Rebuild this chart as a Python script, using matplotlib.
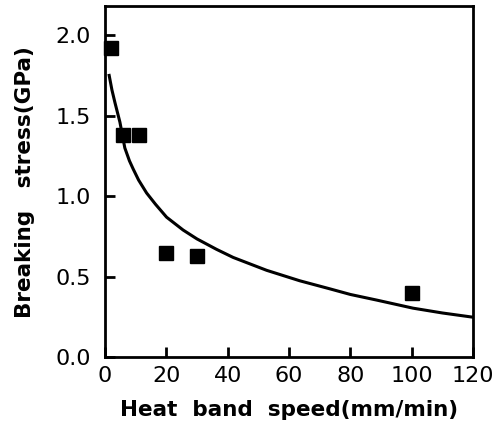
import numpy as np
from matplotlib import pyplot as plt

# measured points
speed = [2, 6, 11, 20, 30, 100]
stress = [1.92, 1.38, 1.38, 0.65, 0.63, 0.40]

# fitted curve
curve_x = [1.4, 2.3, 3.3, 4.9, 6.5, 8.0, 9.2, 11.0, 13.6, 16.5, 20.1, 25.5, 30.0, 36.4,
           41.8, 52.7, 63.5, 73.3, 80.0, 88.6, 100.4, 110.0, 119.5]
curve_y = [1.75, 1.66, 1.58, 1.46, 1.30, 1.22, 1.17, 1.10, 1.02, 0.95, 0.87, 0.79, 0.735, 0.67,
           0.62, 0.54, 0.475, 0.425, 0.39, 0.355, 0.305, 0.275, 0.25]

fig = plt.figure(figsize=(4.97, 4.40), dpi=100)
ax = fig.add_axes([0.211, 0.188, 0.741, 0.798])

ax.plot(curve_x, curve_y, color='black', lw=2.2, solid_joinstyle='round')
ax.plot(speed, stress, 's', color='black', markersize=9.5, clip_on=False)

ax.set_xlim(0, 120)
ax.set_ylim(0, 2.18)
ax.set_xticks([0, 20, 40, 60, 80, 100, 120])
ax.set_yticks([0.0, 0.5, 1.0, 1.5, 2.0])
ax.set_yticklabels(['0.0', '0.5', '1.0', '1.5', '2.0'])

for s in ax.spines.values():
    s.set_linewidth(2)
ax.tick_params(direction='in', length=7, width=2, labelsize=16)
ax.tick_params(axis='y', pad=10)
ax.tick_params(axis='x', pad=6)

ax.set_xlabel('Heat  band  speed(mm/min)', fontsize=15.5, fontweight='bold', labelpad=10)
ax.set_ylabel('Breaking   stress(GPa)', fontsize=15.5, fontweight='bold', labelpad=15)

fig.savefig('out.png', dpi=100)
